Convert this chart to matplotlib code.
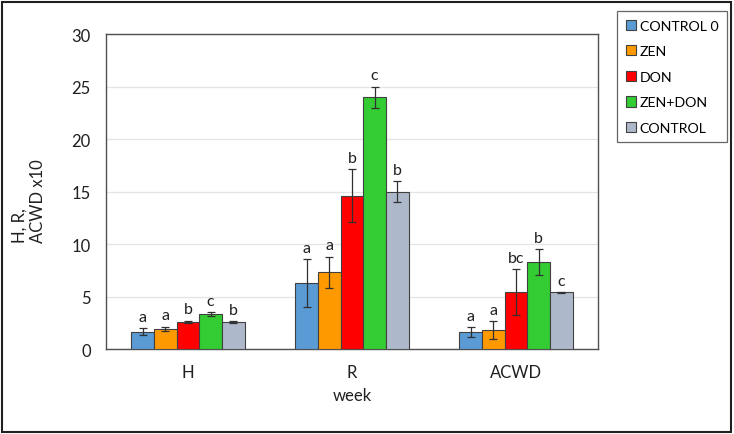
import numpy as np
import matplotlib
matplotlib.use("Agg")
import matplotlib.pyplot as plt
from matplotlib.patches import Rectangle

plt.rcParams['font.family'] = ['Lato', 'DejaVu Sans']

# data
groups = ["H", "R", "ACWD"]
series = ["CONTROL 0", "ZEN", "DON", "ZEN+DON", "CONTROL"]
colors = ["#5B9BD5", "#FF9900", "#FF0000", "#33CC33", "#ADB9CA"]

control0 = [1.65, 6.3, 1.62]
zen = [1.93, 7.3, 1.81]
don = [2.6, 14.6, 5.4]
zen_don = [3.33, 24.0, 8.25]
control = [2.57, 15.0, 5.4]

control0_err = [0.33, 2.3, 0.5]
zen_err = [0.2, 1.5, 0.83]
don_err = [0.1, 2.5, 2.2]
zen_don_err = [0.2, 1.0, 1.24]
control_err = [0.05, 1.0, 0.05]

control0_let = ["a", "a", "a"]
zen_let = ["a", "a", "a"]
don_let = ["b", "b", "bc"]
zen_don_let = ["c", "c", "b"]
control_let = ["b", "b", "c"]

values = [control0, zen, don, zen_don, control]
errors = [control0_err, zen_err, don_err, zen_don_err, control_err]
letters = [control0_let, zen_let, don_let, zen_don_let, control_let]

fig = plt.figure(figsize=(7.34, 4.35), dpi=100)
ax = fig.add_axes([0.1444, 0.1954, 0.6703, 0.7241])

x = np.arange(len(groups))
w = 0.138
for i, name in enumerate(series):
    pos = x + (i - 2) * w
    ax.bar(pos, values[i], width=w, color=colors[i], edgecolor="#404040",
           linewidth=0.8, label=name, zorder=3)
    ax.errorbar(pos, values[i], yerr=errors[i], fmt="none", ecolor="#303030",
                elinewidth=0.9, capsize=3, capthick=0.9, zorder=4)
    for j in range(len(groups)):
        ax.annotate(letters[i][j], (pos[j], values[i][j] + errors[i][j]),
                    xytext=(0, 3), textcoords="offset points",
                    ha="center", va="bottom", fontsize=11.5, color="#202020")

ax.set_xlim(-0.5, 2.5)
ax.set_ylim(0, 30)
ax.set_yticks(range(0, 31, 5))
ax.set_xticks(x)
ax.set_xticklabels(groups)
ax.tick_params(axis="both", length=0, labelsize=12, colors="#202020")
ax.tick_params(axis="y", pad=11)
ax.tick_params(axis="x", pad=11)
ax.grid(axis="y", color="#E4E4E4", linewidth=0.9, zorder=0)
for s in ax.spines.values():
    s.set_color("#505050")
    s.set_linewidth(1.0)

ax.set_xlabel("week", fontsize=12, labelpad=5, color="#202020")
fig.text(29 / 734, 1 - 201 / 435, "H, R,\nACWD x10", rotation=90,
         ha="center", va="center", multialignment="left", fontsize=12,
         color="#202020")

leg = fig.legend(loc="upper left", bbox_to_anchor=(617 / 734, 1 - 12 / 435),
                 frameon=True, fancybox=False, fontsize=10.2,
                 handlelength=0.75, handleheight=0.75, handletextpad=0.25,
                 labelspacing=0.95, borderpad=0.6, borderaxespad=0)
leg.get_frame().set_edgecolor("#404040")
leg.get_frame().set_linewidth(0.9)

fig.patches.append(Rectangle((2 / 734, 2 / 435), 729 / 734, 430 / 435,
                             transform=fig.transFigure, fill=False,
                             edgecolor="#202020", linewidth=1.5))

fig.savefig("out.png", dpi=100)
